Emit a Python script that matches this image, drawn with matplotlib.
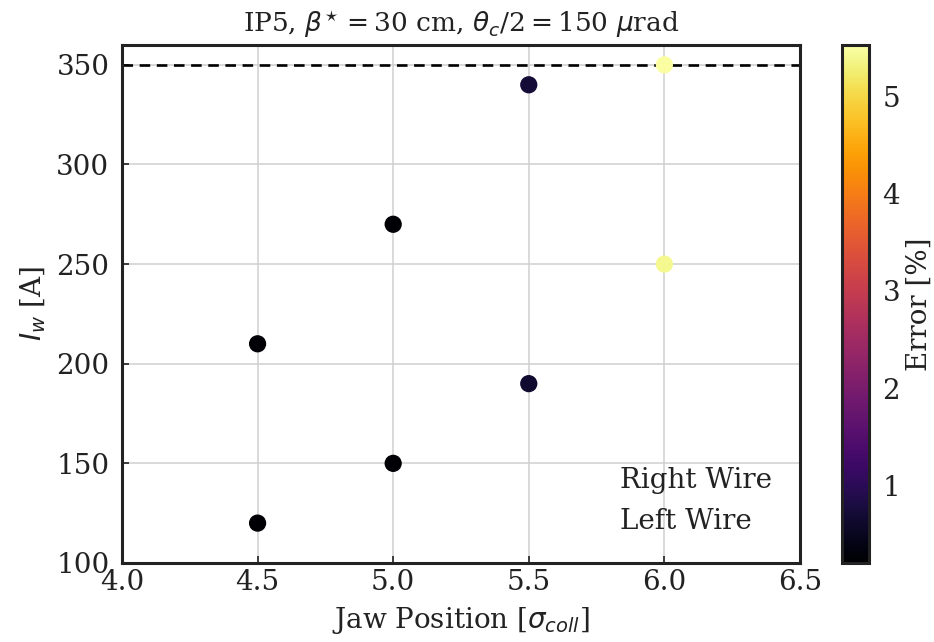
import numpy as np
import matplotlib
matplotlib.use("Agg")
import matplotlib.pyplot as plt
from matplotlib.lines import Line2D

plt.rcParams['font.family'] = 'DejaVu Serif'
plt.rcParams['mathtext.fontset'] = 'custom'
plt.rcParams['mathtext.rm'] = 'DejaVu Serif'
plt.rcParams['mathtext.it'] = 'DejaVu Sans:italic'
plt.rcParams['mathtext.bf'] = 'DejaVu Sans:bold'
plt.rcParams['text.color'] = '#222222'
plt.rcParams['axes.labelcolor'] = '#222222'
plt.rcParams['xtick.color'] = '#222222'
plt.rcParams['ytick.color'] = '#222222'

# data
jaw_right = [4.5, 5.0, 5.5, 6.0]
iw_right = [210, 270, 340, 350]
err_right = [0.22, 0.22, 0.7, 5.5]

jaw_left = [4.5, 5.0, 5.5, 6.0]
iw_left = [120, 150, 190, 250]
err_left = [0.2, 0.2, 0.65, 5.4]

vmin, vmax = 0.2, 5.53
i_max = 350

fig = plt.figure(figsize=(9.34, 6.42), dpi=100)
ax = fig.add_axes([0.1306, 0.1231, 0.7259, 0.8069])
cax = fig.add_axes([0.902, 0.1231, 0.028, 0.8069])

ax.grid(True, color='#cfcfcf', linewidth=1.1, zorder=0)
ax.axhline(i_max, color='black', linestyle='--', linewidth=1.9, dashes=(4, 2.5), zorder=2)

sc = ax.scatter(jaw_right, iw_right, c=err_right, cmap='inferno', vmin=vmin, vmax=vmax,
                s=130, zorder=3)
ax.scatter(jaw_left, iw_left, c=err_left, cmap='inferno', vmin=vmin, vmax=vmax,
           s=130, zorder=3)

ax.set_xlim(4.0, 6.5)
ax.set_ylim(100, 360)
ax.set_xticks([4.0, 4.5, 5.0, 5.5, 6.0, 6.5])
ax.set_yticks([100, 150, 200, 250, 300, 350])
ax.tick_params(direction='in', labelsize=20, length=5, width=1.2)
ax.tick_params(axis='x', pad=4)
ax.tick_params(axis='y', pad=9)
for sp in ax.spines.values():
    sp.set_linewidth(2.2)
    sp.set_color('#222222')

ax.set_xlabel(r'Jaw Position [$\sigma_{coll}$]', fontsize=20, labelpad=7)
ax.set_ylabel(r'$I_w$ [A]', fontsize=20, labelpad=6)
ax.set_title(r'IP5, $\beta^{\!\star}=30$ cm, $\theta_c/2=150$ $\mu$rad', fontsize=19, pad=9)

handles = [Line2D([], [], linestyle='none', marker='o', markersize=0),
           Line2D([], [], linestyle='none', marker='o', markersize=0)]
ax.legend(handles, ['Right Wire', 'Left Wire'], loc='lower right', frameon=False,
          fontsize=20, handlelength=0, handletextpad=0, borderaxespad=0.6,
          labelspacing=0.5)

cb = fig.colorbar(sc, cax=cax)
cb.set_label('Error [%]', fontsize=20, labelpad=4)
cb.set_ticks([1, 2, 3, 4, 5])
cb.ax.tick_params(labelsize=20, length=0, pad=10)
cb.outline.set_linewidth(2.2)
cb.outline.set_edgecolor('#222222')

fig.savefig('out.png', dpi=100)
